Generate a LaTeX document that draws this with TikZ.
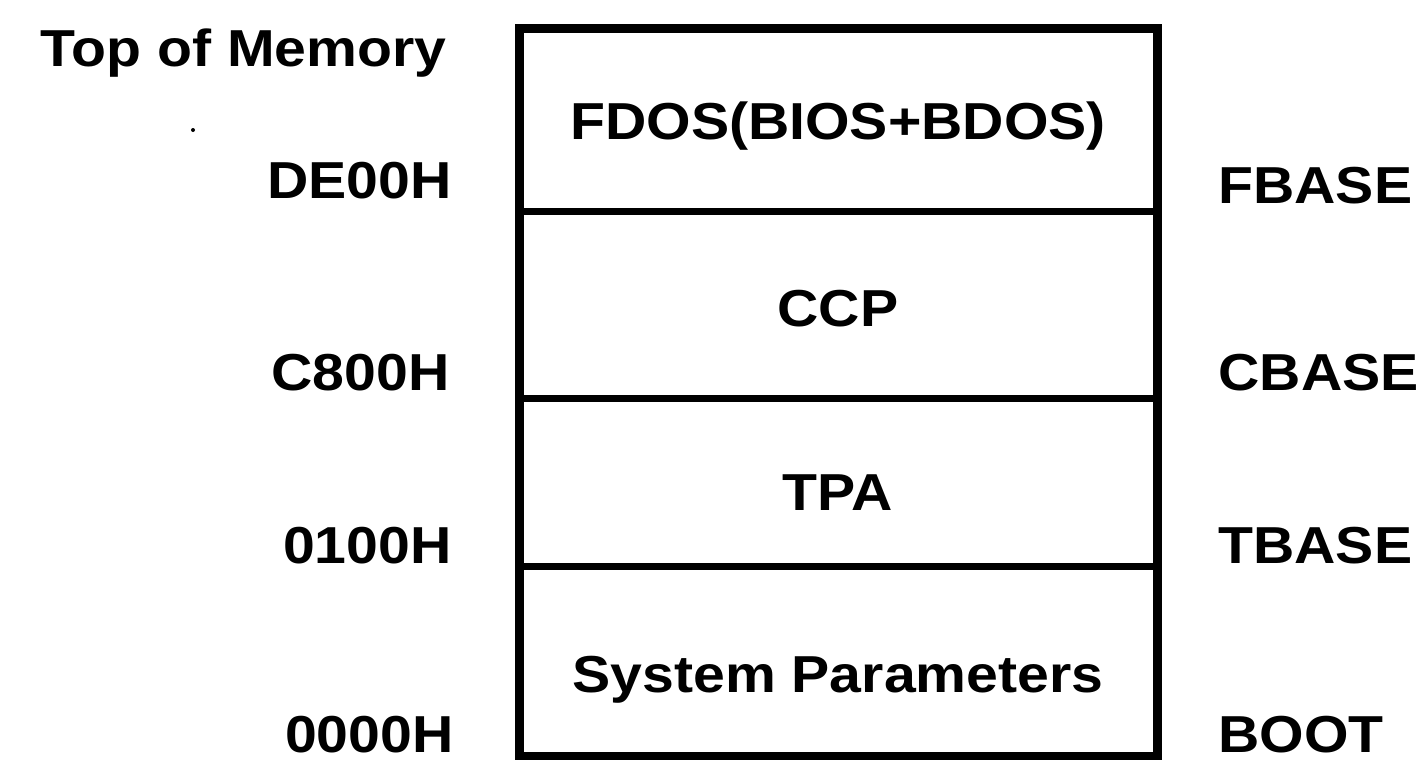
\documentclass[tikz,border=0pt]{standalone}
\usepackage{fontspec}
\setmainfont{Liberation Sans}[FakeStretch=1.1]
\begin{document}
\begin{tikzpicture}[x=0.5pt,y=-0.5pt,
  txt/.style={font=\bfseries\fontsize{26pt}{30pt}\selectfont, inner sep=0pt},
  divider/.style={draw=black, line width=3.5pt},
  outer/.style={draw=black, line width=4.5pt}]
\useasboundingbox (0,0) rectangle (1424,760);
% memory box
\coordinate (tl) at (519,28);
\coordinate (br) at (1157,756);
\coordinate (d1l) at (519,211);  \coordinate (d1r) at (1157,211);
\coordinate (d2l) at (519,398);  \coordinate (d2r) at (1157,398);
\coordinate (d3l) at (519,566);  \coordinate (d3r) at (1157,566);
\draw[divider] (d1l) -- (d1r);
\draw[divider] (d2l) -- (d2r);
\draw[divider] (d3l) -- (d3r);
\draw[outer] (tl) rectangle (br);
% box texts
\node[txt, anchor=base] (fdos) at (838,139) {FDOS(BIOS+BDOS)};
\node[txt, anchor=base] (ccp) at (838,326) {CCP};
\node[txt, anchor=base] (tpa) at (838,510) {TPA};
\node[txt, anchor=base] (sys) at (838,692) {System Parameters};
% left labels
\node[txt, anchor=base east] (top) at (447,66) {Top of Memory};
\node[txt, anchor=base east] (de) at (452,198) {DE00H};
\node[txt, anchor=base east] (c8) at (450,390) {C800H};
\node[txt, anchor=base east] (o1) at (452,563) {0100H};
\node[txt, anchor=base east] (o0) at (454,752) {0000H};
% right labels
\node[txt, anchor=base west] (fb) at (1218,203) {FBASE};
\node[txt, anchor=base west] (cb) at (1218,390) {CBASE};
\node[txt, anchor=base west] (tb) at (1218,563) {TBASE};
\node[txt, anchor=base west] (bt) at (1218,752) {BOOT};
% stray mark
\fill (193,130) circle (2);
\end{tikzpicture}
\end{document}
